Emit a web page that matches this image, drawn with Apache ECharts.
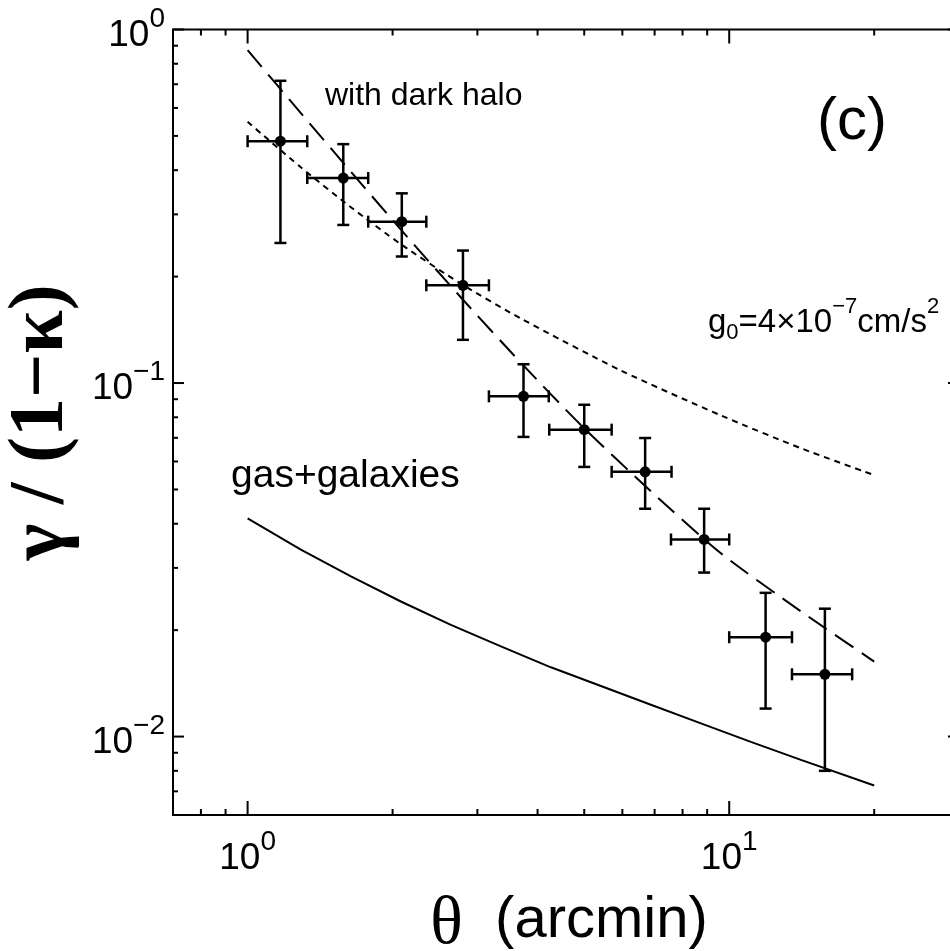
<!DOCTYPE html>
<html><head><meta charset="utf-8">
<script src="https://cdn.jsdelivr.net/npm/echarts@6/dist/echarts.min.js"></script>
<style>html,body{margin:0;padding:0;background:#fff;}#c{width:950px;height:951px;}</style>
</head><body><div id="c"></div>
<script>
// ---- data ----
const thetaVals = [1.17, 1.58, 2.09, 2.80, 3.74, 5.00, 6.69, 8.87, 11.9, 15.8];
const thetaLo   = [1.00, 1.33, 1.78, 2.35, 3.17, 4.23, 5.70, 7.57, 10.0, 13.5];
const thetaHi   = [1.33, 1.78, 2.35, 3.17, 4.22, 5.70, 7.59, 10.0, 13.5, 18.0];
const shearVals = [0.483, 0.380, 0.286, 0.189, 0.0917, 0.0738, 0.0561, 0.0361, 0.0191, 0.0150];
const shearLo   = [0.249, 0.280, 0.228, 0.1325, 0.0704, 0.0579, 0.0441, 0.0291, 0.0120, 0.0080];
const shearHi   = [0.716, 0.474, 0.344, 0.237, 0.113, 0.0868, 0.0699, 0.0441, 0.0255, 0.0230];

const haloX = [1.00, 1.29, 1.639, 2.081, 2.773, 3.694, 4.92, 6.89, 9.61, 14.09, 20.0];
const haloY = [0.874, 0.580, 0.396, 0.2715, 0.1746, 0.1141, 0.0761, 0.0493, 0.0330, 0.0226, 0.0163];

const mondX = [1.00, 1.29, 1.639, 2.081, 2.773, 3.694, 5.96, 9.61, 14.09, 20.0];
const mondY = [0.548, 0.4075, 0.3142, 0.2470, 0.1909, 0.1522, 0.1085, 0.0810, 0.0654, 0.0549];

const gasX = [1.00, 1.29, 1.639, 2.081, 2.643, 3.357, 4.263, 5.415, 6.877, 8.736, 11.09, 14.09, 20.0];
const gasY = [0.0414, 0.0338, 0.0284, 0.0241, 0.0207, 0.0180, 0.0157, 0.0139, 0.0123, 0.0109, 0.00966, 0.00859, 0.00727];

const xMajorTicks = [1, 10];
const xMinorTicks = [0.8, 0.9, 2, 3, 4, 5, 6, 7, 8, 9, 20];
const yMajorTicks = [0.01, 0.1, 1];
const yMinorTicks = [0.007, 0.008, 0.009, 0.02, 0.03, 0.04, 0.05, 0.06, 0.07, 0.08, 0.09,
                     0.2, 0.3, 0.4, 0.5, 0.6, 0.7, 0.8, 0.9];

const xTitle = 'θ';
const xUnit = '(arcmin)';
const yTitle = 'γ / (1−κ)';

// ---- chart ----
const SANS = '"Liberation Sans", Arial, sans-serif';
const SERIF = '"Liberation Serif", "Times New Roman", serif';
const chart = echarts.init(document.getElementById('c'), null, {renderer: 'canvas'});

function powLabel(v) {
  const e = Math.log10(v);
  const r = Math.round(e);
  if (Math.abs(e - r) > 1e-6) return '';
  const s = r < 0 ? '\u2212' + (-r) : String(r);
  return '{b|10}{s|' + s + '}';
}
const labelRich = {
  b: {fontSize: 37, fontFamily: SANS, color: '#000', verticalAlign: 'bottom'},
  s: {fontSize: 28, fontFamily: SANS, color: '#000', verticalAlign: 'top', padding: [0, 0, 21, 0]}
};

function tickSeries(values, isX, major) {
  return {
    type: 'custom',
    silent: true,
    z: 5,
    data: values.map(v => isX ? [v, 0.1] : [1, v]),
    encode: {x: 0, y: 1},
    renderItem: function (params, api) {
      const cs = params.coordSys;
      const st = {stroke: '#000', lineWidth: 2};
      if (isX) {
        const len = major ? 14 : 6;
        const x = api.coord([api.value(0), 0.1])[0];
        return {type: 'group', children: [
          {type: 'line', shape: {x1: x, y1: cs.y + cs.height, x2: x, y2: cs.y + cs.height - len}, style: st},
          {type: 'line', shape: {x1: x, y1: cs.y, x2: x, y2: cs.y + len}, style: st}
        ]};
      } else {
        const len = major ? 11 : 5;
        const y = api.coord([1, api.value(1)])[1];
        return {type: 'group', children: [
          {type: 'line', shape: {x1: cs.x, y1: y, x2: cs.x + len, y2: y}, style: st},
          {type: 'line', shape: {x1: cs.x + cs.width, y1: y, x2: cs.x + cs.width - len, y2: y}, style: st}
        ]};
      }
    }
  };
}

const errData = thetaVals.map((t, i) => [t, shearVals[i], thetaLo[i], thetaHi[i], shearLo[i], shearHi[i]]);

const option = {
  animation: false,
  backgroundColor: '#fff',
  grid: {left: 173, top: 29.5, width: 786, height: 785.5, show: true, borderColor: '#000', borderWidth: 2,
         containLabel: false, outerBoundsMode: 'none'},
  xAxis: {
    type: 'log', logBase: 10, min: 0.7, max: 30,
    axisLine: {show: false}, axisTick: {show: false}, splitLine: {show: false},
    axisLabel: {formatter: powLabel, rich: labelRich, margin: 13, showMinLabel: true, showMaxLabel: true},
    name: '{t|' + xTitle + '}{a|  ' + xUnit + '}',
    nameLocation: 'middle', nameGap: 76,
    nameTextStyle: {
      padding: [0, 0, 0, 6],
      rich: {
        t: {fontSize: 68, fontFamily: SERIF, color: '#000', verticalAlign: 'bottom'},
        a: {fontSize: 58, fontFamily: SANS, color: '#000', verticalAlign: 'bottom', padding: [0, 0, 9, 0]}
      }
    }
  },
  yAxis: {
    type: 'log', logBase: 10, min: 0.006, max: 1,
    axisLine: {show: false}, axisTick: {show: false}, splitLine: {show: false},
    axisLabel: {formatter: powLabel, rich: labelRich, margin: 8, showMinLabel: true, showMaxLabel: true},
    name: yTitle, nameLocation: 'middle', nameRotate: 90, nameGap: 88,
    nameTextStyle: {fontSize: 78, fontWeight: 'bold', fontFamily: SERIF, color: '#000'}
  },
  series: [
    {type: 'line', name: 'with dark halo', data: haloX.map((x, i) => [x, haloY[i]]),
     showSymbol: false, smooth: 0.25, z: 3,
     lineStyle: {color: '#000', width: 2, type: [22, 10]}},
    {type: 'line', name: 'MOND g0', data: mondX.map((x, i) => [x, mondY[i]]),
     showSymbol: false, smooth: 0.25, z: 3,
     lineStyle: {color: '#000', width: 2, type: [6, 5]}},
    {type: 'line', name: 'gas+galaxies', data: gasX.map((x, i) => [x, gasY[i]]),
     showSymbol: false, smooth: false, z: 3,
     lineStyle: {color: '#000', width: 2, type: 'solid'}},
    {type: 'custom', name: 'data', data: errData, encode: {x: 0, y: 1}, z: 4,
     renderItem: function (params, api) {
       const c = api.coord([api.value(0), api.value(1)]);
       const l = api.coord([api.value(2), api.value(1)]);
       const r = api.coord([api.value(3), api.value(1)]);
       const b = api.coord([api.value(0), api.value(4)]);
       const t = api.coord([api.value(0), api.value(5)]);
       const cap = 6;
       const st = {stroke: '#000', lineWidth: 2.5};
       return {type: 'group', children: [
         {type: 'line', shape: {x1: l[0], y1: c[1], x2: r[0], y2: c[1]}, style: st},
         {type: 'line', shape: {x1: l[0], y1: c[1] - cap, x2: l[0], y2: c[1] + cap}, style: st},
         {type: 'line', shape: {x1: r[0], y1: c[1] - cap, x2: r[0], y2: c[1] + cap}, style: st},
         {type: 'line', shape: {x1: c[0], y1: t[1], x2: c[0], y2: b[1]}, style: st},
         {type: 'line', shape: {x1: c[0] - cap, y1: t[1], x2: c[0] + cap, y2: t[1]}, style: st},
         {type: 'line', shape: {x1: c[0] - cap, y1: b[1], x2: c[0] + cap, y2: b[1]}, style: st},
         {type: 'circle', shape: {cx: c[0], cy: c[1], r: 5.5}, style: {fill: '#000'}}
       ]};
     }},
    tickSeries(xMajorTicks, true, true),
    tickSeries(xMinorTicks, true, false),
    tickSeries(yMajorTicks, false, true),
    tickSeries(yMinorTicks, false, false)
  ],
  graphic: [
    {type: 'text', x: 325, y: 80, style: {text: 'with dark halo', font: '32px ' + SANS, fill: '#000', verticalAlign: 'top'}},
    {type: 'text', x: 817, y: 92, style: {text: '(c)', font: '60px ' + SANS, fill: '#000', verticalAlign: 'top'}},
    {type: 'text', x: 231, y: 457, style: {text: 'gas+galaxies', font: '39px ' + SANS, fill: '#000', verticalAlign: 'top'}},
    {type: 'text', x: 708, y: 296, style: {
      text: '{m|g}{sub|0}{m|=4×10}{sup|\u22127}{m|cm/s}{sup|2}',
      verticalAlign: 'top',
      rich: {
        m: {fontSize: 33, fontFamily: SANS, color: '#000', verticalAlign: 'bottom', padding: [0, 0, 5, 0]},
        sub: {fontSize: 22, fontFamily: SANS, color: '#000', verticalAlign: 'bottom'},
        sup: {fontSize: 22, fontFamily: SANS, color: '#000', verticalAlign: 'top', padding: [0, 0, 26, 0]}
      }
    }}
  ]
};
chart.setOption(option);
</script>
</body></html>
